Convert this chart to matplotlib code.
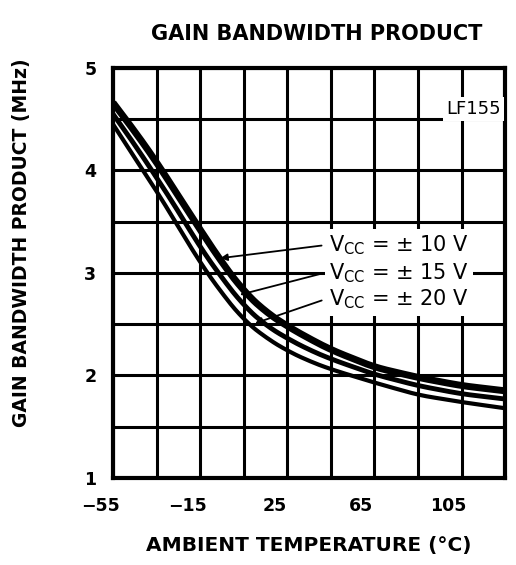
import numpy as np
import matplotlib
matplotlib.use("Agg")
import matplotlib.pyplot as plt
import matplotlib.transforms as mtrans

# temperature (degC) and gain bandwidth product (MHz)
temp = [-55, -45, -35, -25, -15, -5, 5, 15, 25, 35, 45, 65, 85, 105, 125]
gbw_10v = [4.66, 4.38, 4.08, 3.75, 3.42, 3.10, 2.82, 2.62, 2.48, 2.36, 2.25, 2.08, 1.98, 1.90, 1.85]
gbw_15v = [4.55, 4.25, 3.93, 3.60, 3.25, 2.95, 2.68, 2.49, 2.36, 2.25, 2.16, 2.01, 1.90, 1.82, 1.77]
gbw_20v = [4.45, 4.12, 3.80, 3.45, 3.10, 2.80, 2.54, 2.37, 2.24, 2.14, 2.06, 1.93, 1.81, 1.74, 1.68]

xticks = [-55, -15, 25, 65, 105]
yticks = [1, 2, 3, 4, 5]

plt.rcParams['font.family'] = ['DejaVu Sans']
fig = plt.figure(figsize=(5.16, 5.65), dpi=100)
ax = fig.add_axes([0.219, 0.154, 0.760, 0.726])

ax.set_xlim(-55, 125)
ax.set_ylim(1, 5)
ax.set_xticks(np.arange(-55, 126, 20), minor=True)
ax.set_yticks(np.arange(1, 5.01, 0.5), minor=True)
ax.set_xticks(xticks)
ax.set_yticks(yticks)
ax.set_xticklabels([str(t).replace("-", "\u2212") for t in xticks], fontsize=12.5, fontweight="bold")
ax.set_yticklabels([str(t) for t in yticks], fontsize=12.5, fontweight="bold")
ax.tick_params(which="both", length=0)
ax.tick_params(axis="x", pad=14)
ax.tick_params(axis="y", pad=12)
shift = mtrans.ScaledTranslation(-13 / 100, 0, fig.dpi_scale_trans)
for lab in ax.get_xticklabels():
    lab.set_transform(lab.get_transform() + shift)

ax.grid(True, which="both", color="black", linewidth=2.2)
for s in ax.spines.values():
    s.set_linewidth(3)
    s.set_color("black")
ax.set_axisbelow(True)

x = np.linspace(-55, 125, 361)
for vals, lw in [(gbw_20v, 3.0), (gbw_15v, 3.5), (gbw_10v, 5.0)]:
    y = np.interp(x, temp, vals)
    yc = np.convolve(np.pad(y, 12, mode="reflect", reflect_type="odd"), np.ones(25) / 25, mode="valid")
    ax.plot(x, yc, color="black", linewidth=lw, solid_capstyle="butt", zorder=3)

ax.set_title("GAIN BANDWIDTH PRODUCT", fontsize=15, fontweight="bold", pad=20, x=0.52)
ax.set_xlabel("AMBIENT TEMPERATURE (\u00b0C)", fontsize=14.5, fontweight="bold", labelpad=15)
ax.set_ylabel("GAIN BANDWIDTH PRODUCT (MHz)", fontsize=13.5, fontweight="bold")
ax.yaxis.set_label_coords(-0.21, 0.573)

box = dict(facecolor="white", edgecolor="none", pad=2)
ax.text(123, 4.6, "LF155", fontsize=13, ha="right", va="center", bbox=box, zorder=4)

labels = ["\u00b1 10 V", "\u00b1 15 V", "\u00b1 20 V"]
label_y = [3.27, 3.0, 2.74]
targets = [(-7, 3.14), (2, 2.78), (9, 2.5)]
for lab, ly, (tx, ty) in zip(labels, label_y, targets):
    ax.text(44, ly, "V$_{\\mathregular{CC}}$ = " + lab, fontsize=15, ha="left", va="center",
            bbox=dict(facecolor="white", edgecolor="none", pad=3), zorder=4)
    ax.annotate("", xy=(tx, ty), xytext=(42, ly),
                arrowprops=dict(arrowstyle="-|>", color="black", lw=1.3, mutation_scale=10),
                zorder=5)

fig.savefig("out.png", dpi=100)
